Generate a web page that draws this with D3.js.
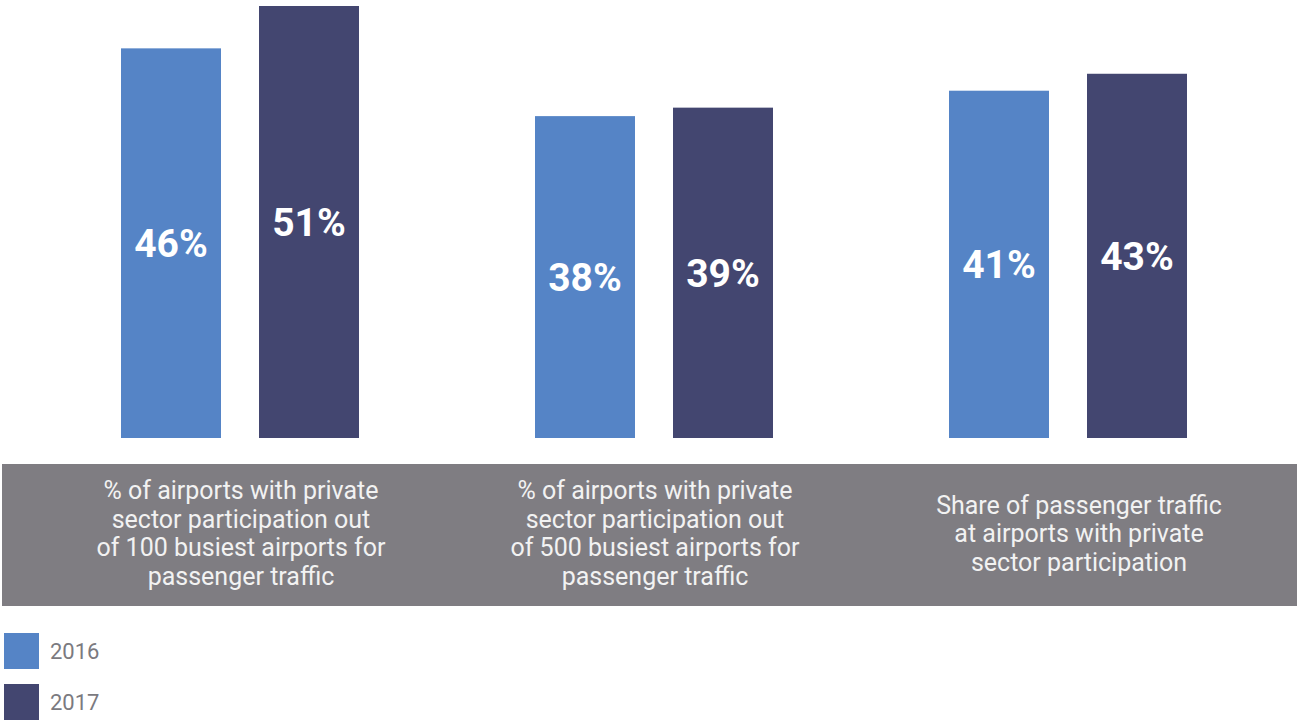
<!DOCTYPE html>
<html>
<head>
<meta charset="utf-8">
<script src="https://cdn.jsdelivr.net/npm/d3@7"></script>
<style>
  html, body { margin: 0; padding: 0; background: #ffffff; }
  svg { display: block; }
</style>
</head>
<body>
<svg id="chart" width="1297" height="721"></svg>
<script>
// Share of airports with private sector participation, 2016 vs 2017
const categories = [
  ["% of airports with private", "sector participation out", "of 100 busiest airports for", "passenger traffic"],
  ["% of airports with private", "sector participation out", "of 500 busiest airports for", "passenger traffic"],
  ["Share of passenger traffic", "at airports with private", "sector participation"]
];
const years = ["2016", "2017"];
const values2016 = [46, 38, 41];
const values2017 = [51, 39, 43];
const colors = ["#5584c6", "#434670"];

const svg = d3.select("#chart");
const font = "Roboto, 'Noto Sans', sans-serif";

const groupIdx = d3.range(categories.length);
const x0 = d3.scaleBand().domain(groupIdx).range([33, 1275]).padding(0);
const x1 = d3.scaleBand().domain(years).range([88, 326]).paddingInner(0.2754).paddingOuter(0);
const y = d3.scaleLinear().domain([0, 51]).range([438, 6]);

const rows = groupIdx.map(i => ({
  i,
  bars: [
    { year: years[0], value: values2016[i], color: colors[0] },
    { year: years[1], value: values2017[i], color: colors[1] }
  ]
}));

// category band behind the labels
svg.append("rect")
  .attr("x", 2).attr("y", 464)
  .attr("width", 1295).attr("height", 142)
  .attr("fill", "#7f7d82");

const groups = svg.selectAll("g.group")
  .data(rows)
  .enter().append("g")
  .attr("class", "group")
  .attr("transform", d => `translate(${x0(d.i)},0)`);

groups.selectAll("rect.bar")
  .data(d => d.bars)
  .enter().append("rect")
  .attr("class", "bar")
  .attr("x", d => x1(d.year))
  .attr("y", d => y(d.value))
  .attr("width", x1.bandwidth())
  .attr("height", d => y(0) - y(d.value))
  .attr("fill", d => d.color);

groups.selectAll("text.value")
  .data(d => d.bars)
  .enter().append("text")
  .attr("class", "value")
  .attr("x", d => x1(d.year) + x1.bandwidth() / 2)
  .attr("y", d => (y(d.value) + y(0)) / 2)
  .attr("dy", "0.36em")
  .attr("text-anchor", "middle")
  .attr("font-family", font)
  .attr("font-weight", 700)
  .attr("font-size", 39)
  .attr("fill", "#ffffff")
  .text(d => d.value + "%");

// category labels, centred in the band
const lineH = 28.5;
groups.append("text")
  .attr("text-anchor", "middle")
  .attr("font-family", font)
  .attr("font-size", 25)
  .attr("fill", "#f2f2f2")
  .each(function(d) {
    const lines = categories[d.i];
    const cx = x0.bandwidth() / 2 + (d.i === 2 ? 11 : 1);
    const top = 533 - (lines.length - 1) * lineH / 2;
    d3.select(this).selectAll("tspan")
      .data(lines)
      .enter().append("tspan")
      .attr("x", cx)
      .attr("y", (l, k) => top + k * lineH)
      .attr("dy", "0.36em")
      .text(l => l);
  });

// legend
const legend = svg.selectAll("g.legend")
  .data(years)
  .enter().append("g")
  .attr("class", "legend")
  .attr("transform", (d, k) => `translate(4,${633 + k * 51})`);

legend.append("rect")
  .attr("width", 35).attr("height", 36)
  .attr("fill", (d, k) => colors[k]);

legend.append("text")
  .attr("x", 46).attr("y", 18)
  .attr("dy", "0.36em")
  .attr("font-family", font)
  .attr("font-size", 22)
  .attr("fill", "#7b7a7f")
  .text(d => d);
</script>
</body>
</html>
